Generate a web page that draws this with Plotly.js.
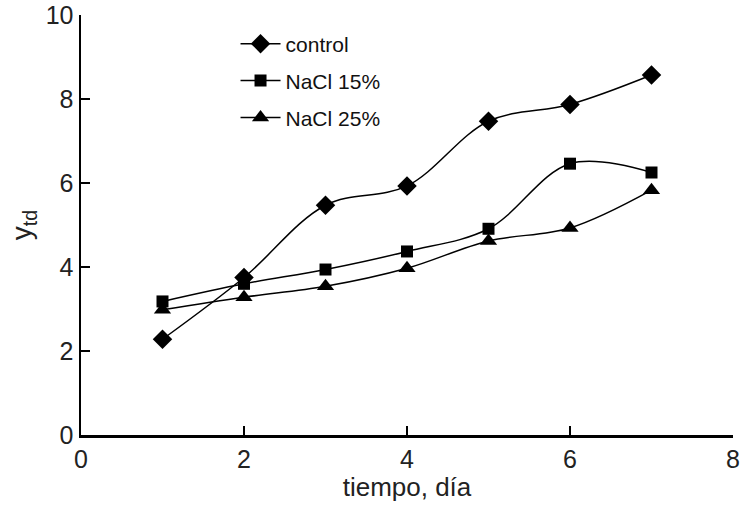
<!DOCTYPE html>
<html>
<head>
<meta charset="utf-8">
<script src="https://cdn.plot.ly/plotly-3.0.1.min.js"></script>
<style>html,body{margin:0;padding:0;background:#fff;}#chart{width:746px;height:506px;}</style>
</head>
<body>
<div id="chart"></div>
<script>
const days = [1, 2, 3, 4, 5, 6, 7];
const controlValues = [2.28, 3.75, 5.47, 5.93, 7.47, 7.87, 8.57];
const nacl15Values = [3.18, 3.6, 3.94, 4.37, 4.91, 6.46, 6.25];
const nacl25Values = [2.98, 3.28, 3.54, 3.97, 4.62, 4.93, 5.83];
const seriesNames = ['control', 'NaCl 15%', 'NaCl 25%'];
const xTicks = [0, 2, 4, 6, 8];
const yTicks = [0, 2, 4, 6, 8, 10];

const font = 'Liberation Sans, Arial, sans-serif';
function trace(y, name, symbol, size, legend) {
  return {
    x: days, y: y, name: name, type: 'scatter', mode: 'lines+markers',
    line: {color: '#000', width: 1.5, shape: 'spline', smoothing: 1},
    marker: {symbol: symbol, size: size, color: '#000'},
    legend: legend, cliponaxis: false
  };
}
const data = [
  trace(controlValues, seriesNames[0], 'diamond', 15, 'legend'),
  trace(nacl15Values, seriesNames[1], 'square', 12, 'legend2'),
  trace(nacl25Values, seriesNames[2], 'triangle-up', 15, 'legend3')
];
const legendBase = {font: {family: font, size: 21, color: '#111'}, bgcolor: 'rgba(0,0,0,0)', xanchor: 'left', yanchor: 'middle', x: 0.237, itemwidth: 40};
const layout = {
  width: 746, height: 506,
  margin: {l: 81, r: 13, t: 15, b: 71},
  paper_bgcolor: '#fff', plot_bgcolor: '#fff',
  font: {family: font, color: '#000'},
  showlegend: true,
  legend: Object.assign({}, legendBase, {y: 0.931}),
  legend2: Object.assign({}, legendBase, {y: 0.843}),
  legend3: Object.assign({}, legendBase, {y: 0.755}),
  xaxis: {
    range: [0, 8], tickvals: xTicks, ticktext: xTicks.map(String),
    showgrid: false, zeroline: false, showline: true, linecolor: '#000', linewidth: 2.5,
    ticks: 'inside', ticklen: 9, tickwidth: 2, tickcolor: '#000',
    tickfont: {family: font, size: 25, color: '#222'},
    title: {text: 'tiempo, día', font: {family: font, size: 26, color: '#222'}, standoff: 2}
  },
  yaxis: {
    range: [0, 10], tickvals: yTicks, ticktext: yTicks.map(String),
    showgrid: false, zeroline: false, showline: true, linecolor: '#000', linewidth: 2.5,
    ticks: 'inside', ticklen: 9, tickwidth: 2, tickcolor: '#000',
    tickfont: {family: font, size: 25, color: '#222'},
    title: {text: 'y<sub>td</sub>', font: {family: font, size: 28, color: '#222'}, standoff: 6}
  }
};
Plotly.newPlot('chart', data, layout, {staticPlot: true, displayModeBar: false});
</script>
</body>
</html>
